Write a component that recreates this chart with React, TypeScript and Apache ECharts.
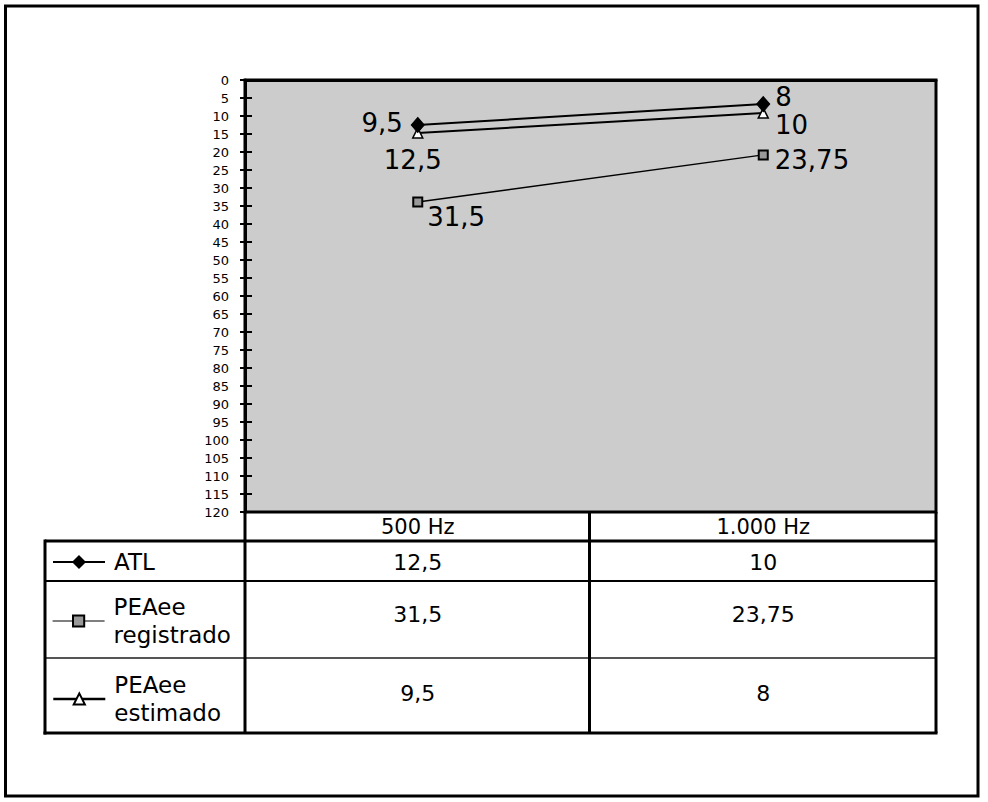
import React, { useEffect, useRef } from 'react';
import * as echarts from 'echarts';

// ---- data ----
const categories = ['500 Hz', '1.000 Hz'];
const seriesNames = ['ATL', 'PEAee registrado', 'PEAee estimado'];
// plotted positions (dB)
const atlValues = [12.5, 6.7];
const registradoValues = [33.9, 20.8];
const estimadoValues = [14.7, 9.2];
// labels printed beside the markers
const atlLabels = ['9,5', '8'];
const registradoLabels = ['31,5', '23,75'];
const estimadoLabels = ['12,5', '10'];
// data table rows
const atlTable = ['12,5', '10'];
const registradoTable = ['31,5', '23,75'];
const estimadoTable = ['9,5', '8'];
const yMin = 0;
const yMax = 120;
const yStep = 5;

const FONT = '"DejaVu Sans", "Liberation Sans", Arial, sans-serif';

export default function App() {
  const ref = useRef<HTMLDivElement>(null);

  useEffect(() => {
    if (!ref.current) return;
    const chart = echarts.init(ref.current, null, { renderer: 'svg' });

    const GL = 245, GT = 80, GW = 691, GH = 432;
    const GR = GL + GW, GB = GT + GH;
    const TL = 45;
    const rows = [GB, 541, 581, 658, 733];
    const colCenters = categories.map((_, i) => GL + (GW * (i + 0.5)) / categories.length);
    const rowCenters = [562, 614, 693];
    const tableRows = [atlTable, registradoTable, estimadoTable];

    const hLine = (y: number, x1: number, x2: number, w: number, c = '#000') => ({
      type: 'line', shape: { x1, y1: y, x2, y2: y }, style: { stroke: c, lineWidth: w }, z: 10,
    });
    const vLine = (x: number, y1: number, y2: number, w: number) => ({
      type: 'line', shape: { x1: x, y1, x2: x, y2 }, style: { stroke: '#000', lineWidth: w }, z: 10,
    });

    const graphics: any[] = [
      { type: 'rect', shape: { x: 5.5, y: 6, width: 972.5, height: 790 }, style: { fill: 'none', stroke: '#000', lineWidth: 3 }, z: 10 },
      hLine(rows[1], TL, GR, 3),
      hLine(rows[2], TL, GR, 2),
      hLine(rows[3], TL, GR, 2, '#555'),
      hLine(rows[4], TL - 1.5, GR + 1.5, 3),
      vLine(TL, rows[1] - 1.5, rows[4] + 1.5, 3),
      vLine(GL, GB, rows[4], 3),
      vLine((GL + GR) / 2 - 1, GB, rows[4], 3),
      vLine(GR, GB, rows[4], 3),
    ];
    tableRows.forEach((row, r) => {
      row.forEach((txt, c) => {
        graphics.push({
          type: 'text',
          x: colCenters[c],
          y: rowCenters[r],
          z: 11,
          style: {
            text: txt,
            fill: '#000',
            fontSize: 22,
            fontFamily: FONT,
            align: 'center',
            verticalAlign: 'middle',
            textAlign: 'center',
            textVerticalAlign: 'middle',
          },
        });
      });
    });

    const labelStyle = { show: true, color: '#000', fontSize: 26, lineHeight: 22, fontFamily: FONT };
    const mk = (vals: number[], labels: string[], places: any[]) =>
      vals.map((v, i) => ({ value: v, label: { ...labelStyle, ...places[i], formatter: () => labels[i] } }));

    const legendBase = {
      left: 52,
      orient: 'horizontal',
      itemWidth: 52,
      itemHeight: 14,
      padding: 0,
      selectedMode: false,
      formatter: (n: string) => n.replace(' ', '\n'),
      textStyle: { color: '#000', fontSize: 23, lineHeight: 28, fontFamily: FONT, padding: [0, 0, 0, 4] },
    };

    chart.setOption({
      animation: false,
      backgroundColor: '#fff',
      grid: {
        left: GL, top: GT, width: GW, height: GH,
        show: true, backgroundColor: '#cccccc', borderColor: '#000', borderWidth: 3,
        outerBoundsMode: 'none',
      },
      legend: [
        { ...legendBase, data: [seriesNames[0]], top: 548, lineStyle: { width: 2 } },
        { ...legendBase, data: [seriesNames[1]], top: 593, lineStyle: { width: 1.2 } },
        { ...legendBase, data: [seriesNames[2]], top: 671, lineStyle: { width: 2.6 } },
      ],
      xAxis: {
        type: 'category',
        data: categories,
        boundaryGap: true,
        axisLine: { lineStyle: { color: '#000', width: 3 } },
        axisTick: { show: false },
        axisLabel: { color: '#000', fontSize: 21, fontFamily: FONT, margin: 15, verticalAlign: 'middle', lineHeight: 20 },
        splitLine: { show: false },
      },
      yAxis: [
        {
          type: 'value', inverse: true, min: yMin, max: yMax, interval: yStep,
          axisLine: { show: true, lineStyle: { color: '#000', width: 3 } },
          axisTick: { show: true, inside: false, length: 5, lineStyle: { color: '#000', width: 2 } },
          axisLabel: { color: '#000', fontSize: 13, fontFamily: FONT, margin: 16 },
          splitLine: { show: false },
        },
        {
          type: 'value', inverse: true, min: yMin, max: yMax, interval: yStep, position: 'left',
          axisLine: { show: false },
          axisTick: { show: true, inside: true, length: 7, lineStyle: { color: '#000', width: 2 } },
          axisLabel: { show: false },
          splitLine: { show: false },
        },
      ],
      series: [
        {
          name: seriesNames[0], type: 'line', yAxisIndex: 0,
          symbol: 'diamond', symbolSize: [13, 15],
          itemStyle: { color: '#000', borderColor: '#000', borderWidth: 1 },
          lineStyle: { color: '#000', width: 2 },
          data: mk(atlValues, atlLabels, [
            { position: 'left', distance: 8, offset: [0, -2] },
            { position: 'right', distance: 5, offset: [0, -7] },
          ]),
          z: 5,
        },
        {
          name: seriesNames[1], type: 'line', yAxisIndex: 0,
          symbol: 'rect', symbolSize: 9,
          itemStyle: { color: '#999999', borderColor: '#000', borderWidth: 2 },
          lineStyle: { color: '#000', width: 1.5 },
          data: mk(registradoValues, registradoLabels, [
            { position: 'right', distance: 4, offset: [0, 15] },
            { position: 'right', distance: 6, offset: [0, 5] },
          ]),
          z: 4,
        },
        {
          name: seriesNames[2], type: 'line', yAxisIndex: 0,
          symbol: 'triangle', symbolSize: [10, 10],
          itemStyle: { color: '#fff', borderColor: '#000', borderWidth: 1.5 },
          lineStyle: { color: '#000', width: 2 },
          data: mk(estimadoValues, estimadoLabels, [
            { position: 'bottom', distance: 10, offset: [-5, 0] },
            { position: 'right', distance: 6, offset: [0, 12] },
          ]),
          z: 3,
        },
      ],
      graphic: graphics,
    });

    return () => chart.dispose();
  }, []);

  return (
    <div
      ref={ref}
      style={{ position: 'fixed', left: 0, top: 0, width: 988, height: 802, background: '#fff' }}
    />
  );
}
